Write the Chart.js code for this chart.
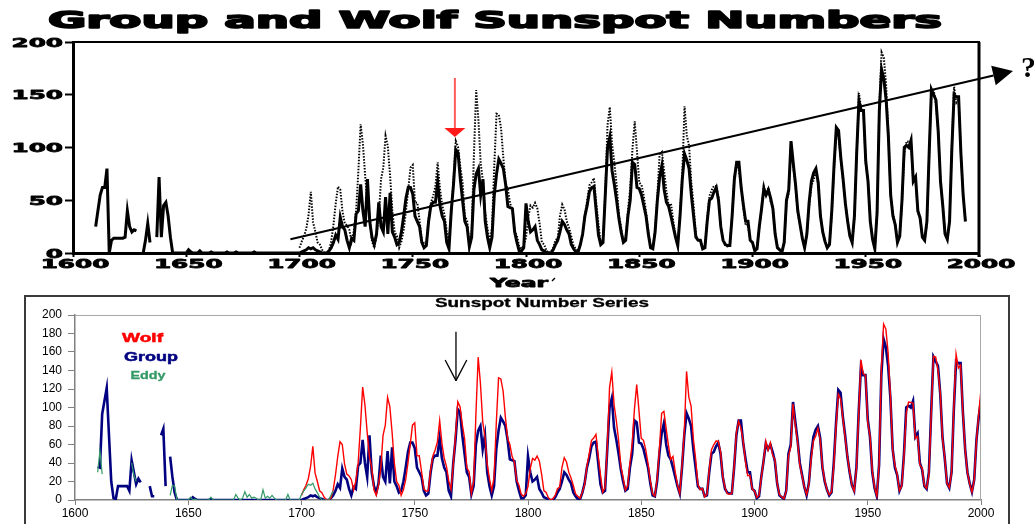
<!DOCTYPE html>
<html>
<head>
<meta charset="utf-8">
<script src="https://cdn.jsdelivr.net/npm/chart.js@4.4.0/dist/chart.umd.min.js"></script>
<style>
  body { margin: 0; background: #fff; }
  .wrap { position: relative; width: 1034px; height: 524px; overflow: hidden; background: #fff; }
  #topChart { position: absolute; left: 0; top: 0; }
  #bottomChart { position: absolute; left: 0; top: 290px; }
</style>
</head>
<body>
<div class="wrap">
  <canvas id="topChart" width="1034" height="290"></canvas>
  <canvas id="bottomChart" width="1034" height="234"></canvas>
</div>

<script>
  // ---- data (one value per year) ----

  // Group sunspot number, 1610..2000 (null = no data)
  var groupStart = 1610;
  var group = [
    36, 35, 93, 107, 121, 70, 20, 2, 1, 15,          // 1610
    15, 15, 15, 15, 10, 43, 30, 17, 23, 19,          // 1620
    null, null, null, 15, 4, 4, null, null, 70, 77,  // 1630
    15, null, 47, 25, 8, 0, 0, 0, 0, 0,              // 1640
    0, 0, 3, 1, 0, 0, 0, 0, 0, 0,                    // 1650
    1, 0, 0, 0, 0, 0, 0, 0, 0, 0,                    // 1660
    0, 0, 0, 0, 0, 0, 0, 0, 0, 0,                    // 1670
    0, 0, 0, 0, 0, 0, 0, 0, 0, 0,                    // 1680
    0, 0, 0, 0, 0, 0, 0, 0, 0, 0,                    // 1690
    0, 1, 2, 3, 5, 4, 5, 3, 2, 1,                    // 1700
    0, 0, 0, 2, 5, 10, 17, 13, 34, 25,               // 1710
    22, 12, 5, 14, 12, 37, 40, 65, 40, 25,           // 1720
    70, 30, 15, 8, 18, 48, 25, 20, 53, 18,           // 1730
    57, 20, 15, 8, 10, 20, 35, 52, 62, 62,           // 1740
    56, 35, 30, 25, 10, 5, 7, 30, 45, 48,            // 1750
    48, 67, 45, 35, 30, 10, 4, 40, 65, 98,           // 1760
    95, 70, 50, 30, 25, 6, 15, 60, 75, 80,           // 1770
    55, 70, 30, 15, 5, 15, 55, 75, 89, 85,           // 1780
    80, 65, 44, 43, 42, 20, 10, 2, 2, 5,             // 1790
    47, 30, 20, 22, 25, 12, 8, 3, 2, 0.5,            // 1800
    0, 0, 3, 8, 12, 20, 30, 27, 22, 18,              // 1810
    8, 4, 1, 1, 8, 18, 35, 45, 58, 62,               // 1820
    63, 40, 17, 8, 10, 55, 100, 110, 78, 65,         // 1830
    50, 33, 20, 10, 12, 35, 50, 86, 84, 62,          // 1840
    61, 55, 45, 35, 18, 5, 4, 20, 50, 72,            // 1850
    83, 60, 48, 44, 35, 25, 15, 7, 35, 70,           // 1860
    94, 88, 80, 55, 35, 15, 12, 12, 4, 5,            // 1870
    30, 50, 52, 58, 62, 50, 25, 12, 8, 7,            // 1880
    7, 35, 70, 86, 86, 62, 45, 30, 30, 12,           // 1890
    10, 2, 4, 25, 42, 61, 55, 60, 52, 42,            // 1900
    18, 5, 3, 1, 10, 50, 60, 106, 85, 65,            // 1910
    40, 27, 14, 5, 18, 48, 68, 76, 80, 67,           // 1920
    35, 20, 11, 5, 8, 40, 83, 119, 116, 90,          // 1930
    70, 47, 30, 16, 10, 35, 95, 144, 135, 135,       // 1940
    87, 68, 30, 13, 4, 38, 135, 174, 165, 145,       // 1950
    110, 55, 35, 27, 10, 16, 50, 100, 102, 100,      // 1960
    107, 68, 72, 40, 33, 15, 12, 30, 95, 155,        // 1970
    150, 145, 115, 68, 45, 18, 13, 30, 98, 150,      // 1980
    148, 148, 95, 55, 30, 18, 9, 22, 65, 90,         // 1990
    108                                              // 2000
  ];

  // Wolf (Zurich) sunspot number, 1700..2000
  var wolfStart = 1700;
  var wolf = [
    5, 11, 16, 23, 36, 58, 29, 20, 10, 8,
    3, 0, 0, 2, 11, 27, 47, 63, 60, 39,
    28, 26, 22, 11, 21, 40, 78, 122, 103, 73,
    47, 35, 11, 5, 16, 34, 70, 81, 111, 101,
    73, 40, 20, 16, 5, 11, 22, 40, 60, 80.9,
    83.4, 47.7, 47.8, 30.7, 12.2, 9.6, 10.2, 32.4, 47.6, 54.0,
    62.9, 85.9, 61.2, 45.1, 36.4, 20.9, 11.4, 37.8, 69.8, 106.1,
    100.8, 81.6, 66.5, 34.8, 30.6, 7.0, 19.8, 92.5, 154.4, 125.9,
    84.8, 68.1, 38.5, 22.8, 10.2, 24.1, 82.9, 132.0, 130.9, 118.1,
    89.9, 66.6, 60.0, 46.9, 41.0, 21.3, 16.0, 6.4, 4.1, 6.8,
    14.5, 34.0, 45.0, 43.1, 47.5, 42.2, 28.1, 10.1, 8.1, 2.5,
    0.0, 1.4, 5.0, 12.2, 13.9, 35.4, 45.8, 41.1, 30.1, 23.9,
    15.6, 6.6, 4.0, 1.8, 8.5, 16.6, 36.3, 49.6, 64.2, 67.0,
    70.9, 47.8, 27.5, 8.5, 13.2, 56.9, 121.5, 138.3, 103.2, 85.7,
    64.6, 36.7, 24.2, 10.7, 15.0, 40.1, 61.5, 98.5, 124.7, 96.3,
    66.6, 64.5, 54.1, 39.0, 20.6, 6.7, 4.3, 22.7, 54.8, 93.8,
    95.8, 77.2, 59.1, 44.0, 47.0, 30.5, 16.3, 7.3, 37.6, 74.0,
    139.0, 111.2, 101.6, 66.2, 44.7, 17.0, 11.3, 12.4, 3.4, 6.0,
    32.3, 54.3, 59.7, 63.7, 63.5, 52.2, 25.4, 13.1, 6.8, 6.3,
    7.1, 35.6, 73.0, 85.1, 78.0, 64.0, 41.8, 26.2, 26.7, 12.1,
    9.5, 2.7, 5.0, 24.4, 42.0, 63.5, 53.8, 62.0, 48.5, 43.9,
    18.6, 5.7, 3.6, 1.4, 9.6, 47.4, 57.1, 103.9, 80.6, 63.6,
    37.6, 26.1, 14.2, 5.8, 16.7, 44.3, 63.9, 69.0, 77.8, 64.9,
    35.7, 21.2, 11.1, 5.7, 8.7, 36.1, 79.7, 114.4, 109.6, 88.8,
    67.8, 47.5, 30.6, 16.3, 9.6, 33.2, 92.6, 151.6, 136.3, 134.7,
    83.9, 69.4, 31.5, 13.9, 4.4, 38.0, 141.7, 190.2, 184.8, 159.0,
    112.3, 53.9, 37.6, 27.9, 10.2, 15.1, 47.0, 93.8, 105.9, 105.5,
    104.5, 66.6, 68.9, 38.0, 34.5, 15.5, 12.6, 27.5, 92.5, 155.4,
    154.6, 140.4, 115.9, 66.6, 45.9, 17.9, 13.4, 29.4, 100.2, 157.6,
    142.6, 145.7, 94.3, 54.6, 29.9, 17.5, 8.6, 21.5, 64.3, 93.3,
    119.6
  ];

  // Eddy reconstruction, 1610..1714
  var eddyStart = 1610;
  var eddy = [
    30, 53, 28, null, null, null, null, null, null, null,
    null, null, null, null, null, 40, 27, 20, null, null,
    null, null, null, null, null, null, null, null, null, null,
    null, null, 5, 16, 15, 0, 0, 0, 0, 0,
    0, 3, 0, 1, 0, 0, 0, 0, 0, 0,
    3, 0, 0, 0, 0, 0, 0, 0, 0, 0,
    0, 6, 2, 0, 2, 9, 3, 6, 2, 3,
    2, 0, 0, 11, 2, 4, 2, 5, 2, 0,
    0, 0, 0, 0, 6, 0, 0, 0, 0, 0,
    6, 10, 13, 17, 16, 18, 12, 8, 3, 0,
    0, 0, 0, 5, 10
  ];

  // upper panel: group numbers before 1700 as plotted there, series end year
  var topGroupEarly = [
    25, 40, 55, 62, 62, 80, 0, 12, 14, 14,           // 1610
    14, 14, 14, 15, 40, 25, 20, 22, 21, null,        // 1620
    null, 0, 12, 28, 10, null, null, 15, 72, 15,     // 1630
    45, 48, 35, 15, 0, 0, 0, 0, 0, 0,                // 1640
    0, 3, 1, 0, 0, 0, 2, 0, 0, 0,                    // 1650
    0, 1, 0, 0, 0, 0, 0, 0, 1, 0,                    // 1660
    0, 0, 1, 0, 0, 0, 0, 0, 0, 0,                    // 1670
    1, 0, 0, 0, 0, 0, 0, 0, 0, 0,                    // 1680
    0, 0, 0, 0, 0, 0, 0, 0, 0, 0                     // 1690
  ];
  var topEnd = 1994;

  // tick labels
  var yearTicks = [1600, 1650, 1700, 1750, 1800, 1850, 1900, 1950, 2000];
  var topValueTicks = [0, 50, 100, 150, 200];
  var bottomValueTicks = [0, 20, 40, 60, 80, 100, 120, 140, 160, 180, 200];

  // ---- helpers ----
  function pts(start, vals, end) {
    var out = [];
    vals.forEach(function (v, i) {
      var yr = start + i;
      if (end === undefined || yr <= end) out.push({ x: yr, y: v });
    });
    return out;
  }

  function tickSetter(list) {
    return function (scale) {
      scale.ticks = list.map(function (v) { return { value: v }; });
    };
  }

  // draw text stretched horizontally by factor sx (optional outline to make it heavier)
  function stretchText(ctx, text, x, y, sx, font, color, align, heavy) {
    ctx.save();
    ctx.font = font;
    ctx.fillStyle = color;
    ctx.strokeStyle = color;
    ctx.textAlign = 'left';
    ctx.textBaseline = 'alphabetic';
    var w = ctx.measureText(text).width * sx;
    var left = align === 'center' ? x - w / 2 : (align === 'right' ? x - w : x);
    ctx.translate(left, y);
    ctx.scale(sx, 1);
    ctx.fillText(text, 0, 0);
    if (heavy) {
      ctx.lineWidth = heavy;
      ctx.lineJoin = 'round';
      ctx.strokeText(text, 0, 0);
    }
    ctx.restore();
  }

  function fitText(ctx, text, x, y, w, font, color, align, heavy) {
    ctx.save();
    ctx.font = font;
    var sx = w / ctx.measureText(text).width;
    ctx.restore();
    stretchText(ctx, text, x, y, sx, font, color, align, heavy);
  }

  function seg(ctx, x0, y0, x1, y1) {
    ctx.beginPath();
    ctx.moveTo(x0, y0);
    ctx.lineTo(x1, y1);
    ctx.stroke();
  }

  Chart.defaults.font.family = '"Liberation Sans", Arial, sans-serif';

  // ---- upper panel ----
  var topGroup = topGroupEarly.concat(group.slice(1700 - groupStart));
  var bigFont = 'bold 13px "DejaVu Sans"';

  var topDecor = {
    id: 'topDecor',
    afterDraw: function (chart) {
      var ctx = chart.ctx, a = chart.chartArea;
      var xs = chart.scales.x, ys = chart.scales.y;
      ctx.save();
      ctx.strokeStyle = '#000';
      ctx.lineWidth = 2;
      seg(ctx, a.left, a.top, a.right + 1, a.top);
      ctx.lineWidth = 3;
      seg(ctx, a.right, a.top, a.right, a.bottom + 4);

      topValueTicks.forEach(function (v) {
        stretchText(ctx, String(v), 63, ys.getPixelForValue(v) + 4.7, 1.9, bigFont, '#000', 'right', 0.8);
      });
      yearTicks.forEach(function (v) {
        stretchText(ctx, String(v), xs.getPixelForValue(v) + 2, 268, 1.9, bigFont, '#000', 'center', 0.8);
      });

      fitText(ctx, 'Group and Wolf Sunspot Numbers', 48, 28, 894, 'bold 23px "DejaVu Sans"', '#000', 'left', 1.6);
      fitText(ctx, 'Year', 490, 287, 58, 'bold 12px "DejaVu Sans"', '#000', 'left', 0.8);
      ctx.strokeStyle = '#000';
      ctx.lineWidth = 1.5;
      seg(ctx, 552, 281, 555, 278);

      // rising trend arrow
      var x0 = xs.getPixelForValue(1696), y0 = ys.getPixelForValue(13);
      var x1 = xs.getPixelForValue(2015), y1 = ys.getPixelForValue(172.5);
      var ang = Math.atan2(y1 - y0, x1 - x0);
      var L = 20, W = 10;
      var bx = x1 - L * Math.cos(ang), by = y1 - L * Math.sin(ang);
      ctx.lineWidth = 2;
      seg(ctx, x0, y0, bx, by);
      ctx.fillStyle = '#000';
      ctx.beginPath();
      ctx.moveTo(x1, y1);
      ctx.lineTo(bx + W * Math.sin(ang), by - W * Math.cos(ang));
      ctx.lineTo(bx - W * Math.sin(ang), by + W * Math.cos(ang));
      ctx.closePath();
      ctx.fill();

      ctx.font = 'bold 30px "Liberation Serif"';
      ctx.textAlign = 'left';
      ctx.textBaseline = 'alphabetic';
      ctx.fillText('?', 1021, 77);

      // red arrow
      var rx = xs.getPixelForValue(1768.6);
      ctx.strokeStyle = '#ff5a5a';
      ctx.lineWidth = 2;
      seg(ctx, rx, 78, rx, 130);
      ctx.fillStyle = '#ff1a1a';
      ctx.beginPath();
      ctx.moveTo(rx - 10.5, 128);
      ctx.lineTo(rx + 10.5, 128);
      ctx.lineTo(rx, 137);
      ctx.closePath();
      ctx.fill();
      ctx.restore();
    }
  };

  new Chart(document.getElementById('topChart'), {
    type: 'line',
    data: {
      datasets: [
        { label: 'Group', data: pts(groupStart, topGroup, topEnd), borderColor: '#000', borderWidth: 3,
          pointRadius: 0 },
        { label: 'Wolf', data: pts(wolfStart, wolf, topEnd), borderColor: '#000', borderWidth: 2,
          borderDash: [1.5, 1.5], pointRadius: 0 }
      ]
    },
    options: {
      responsive: false,
      animation: false,
      events: [],
      layout: { padding: { top: 42, right: 55, left: 0, bottom: 0 } },
      plugins: { legend: { display: false }, tooltip: { enabled: false } },
      scales: {
        x: {
          type: 'linear', min: 1600, max: 2000,
          afterBuildTicks: tickSetter(yearTicks),
          afterFit: function (s) { s.height = 37; },
          ticks: { display: false },
          grid: { drawOnChartArea: false, tickLength: 4, tickWidth: 2, tickColor: '#000' },
          border: { color: '#000', width: 3 }
        },
        y: {
          min: 0, max: 200,
          afterBuildTicks: tickSetter(topValueTicks),
          afterFit: function (s) { s.width = 73; },
          ticks: { display: false },
          grid: { drawOnChartArea: false, tickLength: 8, tickWidth: 2, tickColor: '#000' },
          border: { color: '#000', width: 3 }
        }
      }
    },
    plugins: [topDecor]
  });

  // ---- lower panel ----
  var bottomDecor = {
    id: 'bottomDecor',
    afterDraw: function (chart) {
      var ctx = chart.ctx, a = chart.chartArea;
      var xs = chart.scales.x, ys = chart.scales.y;
      ctx.save();
      ctx.strokeStyle = '#3a3a3a';
      ctx.lineWidth = 2;
      ctx.strokeRect(25, 6, 984, 260);

      ctx.strokeStyle = '#a8a8a8';
      ctx.lineWidth = 1;
      seg(ctx, a.left, a.top + 0.5, a.right, a.top + 0.5);
      seg(ctx, a.right - 0.5, a.top, a.right - 0.5, a.bottom);

      fitText(ctx, 'Sunspot Number Series', 435, 16.5, 214, 'bold 12px "Liberation Sans"', '#000', 'left', 0.3);

      fitText(ctx, 'Wolf', 122, 52, 41, 'bold 13px "Liberation Sans"', '#ff0000', 'left', 0.5);
      fitText(ctx, 'Group', 124, 70.5, 54, 'bold 13px "Liberation Sans"', '#000080', 'left', 0.5);
      fitText(ctx, 'Eddy', 130.5, 89, 35, 'bold 11px "Liberation Sans"', '#339966', 'left', 0.3);

      // black arrow
      var ax = xs.getPixelForValue(1768.2);
      var top = ys.getPixelForValue(182), tip = ys.getPixelForValue(129);
      ctx.strokeStyle = '#000';
      ctx.lineWidth = 1.3;
      seg(ctx, ax, top, ax, tip);
      seg(ctx, ax - 10.8, tip - 20.7, ax, tip);
      seg(ctx, ax + 10.8, tip - 20.7, ax, tip);
      ctx.restore();
    }
  };

  new Chart(document.getElementById('bottomChart'), {
    type: 'line',
    data: {
      datasets: [
        { label: 'Eddy', data: pts(eddyStart, eddy), borderColor: '#339966', borderWidth: 1.2,
          pointRadius: 0 },
        { label: 'Wolf', data: pts(wolfStart, wolf), borderColor: '#ff0000', borderWidth: 1.4,
          pointRadius: 0 },
        { label: 'Group', data: pts(groupStart, group), borderColor: '#000080', borderWidth: 2.6,
          pointRadius: 0 }
      ]
    },
    options: {
      responsive: false,
      animation: false,
      events: [],
      layout: { padding: { top: 25, right: 53, left: 0, bottom: 0 } },
      plugins: { legend: { display: false }, tooltip: { enabled: false } },
      scales: {
        x: {
          type: 'linear', min: 1600, max: 2000,
          afterBuildTicks: tickSetter(yearTicks),
          afterFit: function (s) { s.height = 24; },
          ticks: { color: '#000', font: { size: 12 }, padding: 1, maxRotation: 0,
                   callback: function (v) { return String(v); } },
          grid: { drawOnChartArea: false, tickLength: 5, tickColor: '#808080' },
          border: { color: '#808080', width: 1.5 }
        },
        y: {
          min: 0, max: 200,
          afterBuildTicks: tickSetter(bottomValueTicks),
          afterFit: function (s) { s.width = 75; },
          ticks: { color: '#000', font: { size: 12 }, padding: 6,
                   callback: function (v) { return String(v); } },
          grid: { drawOnChartArea: false, tickLength: 7, tickColor: '#808080' },
          border: { color: '#808080', width: 1.5 }
        }
      }
    },
    plugins: [bottomDecor]
  });
</script>
</body>
</html>
